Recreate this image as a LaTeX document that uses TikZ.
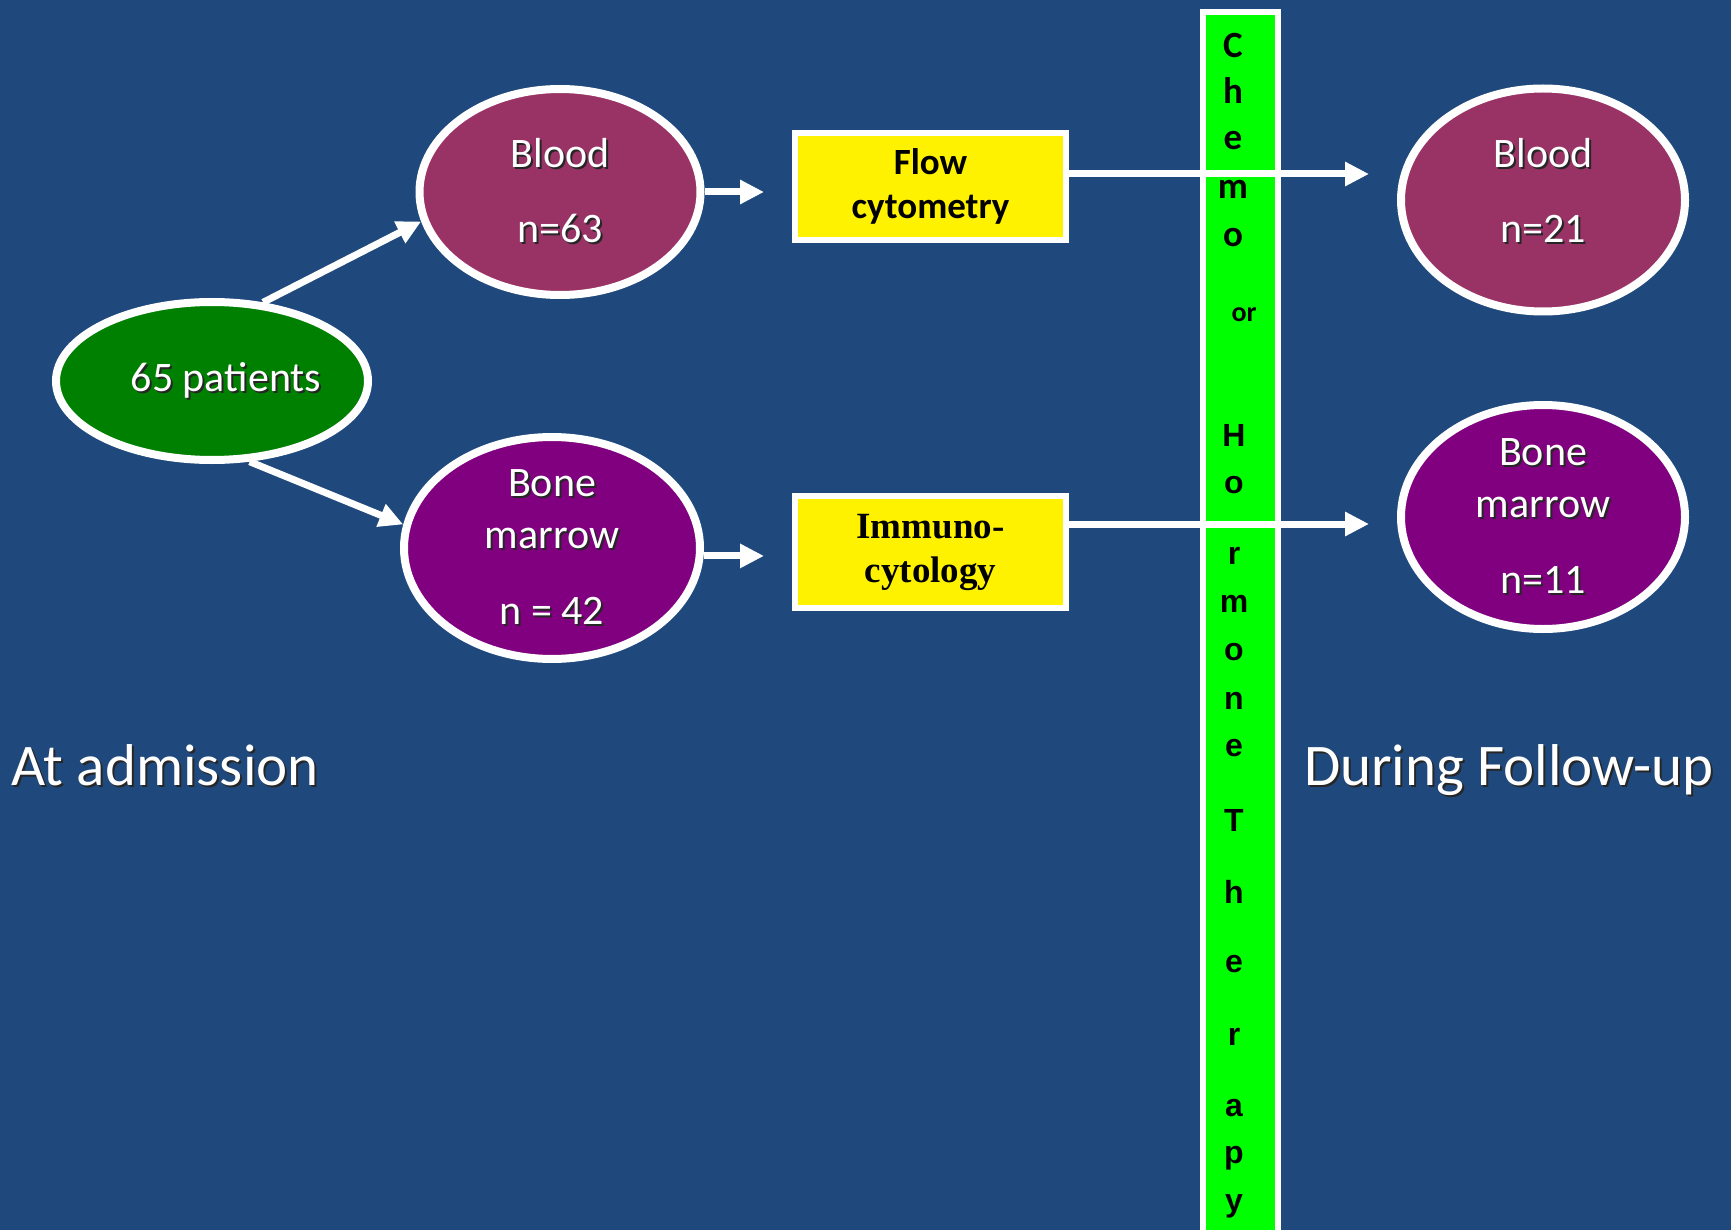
\documentclass[tikz,border=0pt]{standalone}
\usepackage{fontspec}
\setmainfont{Carlito}
\newfontfamily\timesfont{Liberation Serif}
\newfontfamily\arialfont{Liberation Sans}
\usepackage{tikz}
\usetikzlibrary{positioning,arrows.meta,shapes.geometric,calc}
\definecolor{slideblue}{RGB}{31,73,125}
\definecolor{bloodred}{RGB}{153,51,102}
\definecolor{marrowpurple}{RGB}{128,0,128}
\definecolor{patgreen}{RGB}{0,128,0}
\definecolor{bargreen}{RGB}{0,255,0}
\newcommand{\shd}[1]{\makebox[0pt][l]{\kern2pt\raisebox{-2pt}{\textcolor{black!85}{#1}}}#1}
\newcommand{\ovalfont}{\fontsize{42}{52}\selectfont}
\tikzset{
  oval/.style={ellipse,draw=white,line width=8pt,inner sep=0pt,text=white,font=\ovalfont},
  testbox/.style={rectangle,draw=white,line width=6pt,fill=yellow,inner sep=0pt,minimum width=271pt},
  arrowline/.style={->,draw=white,line width=7pt},
  chemoletter/.style={anchor=base,inner sep=0pt,font=\fontsize{37}{40}\selectfont\bfseries},
  hormoneletter/.style={anchor=base,inner sep=0pt,font=\arialfont\fontsize{32}{36}\selectfont\bfseries},
  phaselabel/.style={anchor=base,inner sep=0pt,text=white,font=\fontsize{59}{62}\selectfont}
}

\begin{document}
\begin{tikzpicture}[x=1pt,y=-1pt,align=center,>={Triangle[length=24pt,width=23pt]}]
      \fill[slideblue] (0,0) rectangle (1731,1230);
      \useasboundingbox (0,0) rectangle (1731,1230);

      % at admission
      \node[oval,fill=patgreen,minimum width=312pt,minimum height=158pt] (patients) at (212,381)
      {\hspace*{28pt}\shd{65 patients}};
      \node[oval,fill=bloodred,minimum width=281pt,minimum height=206pt] (bloodL) at (560,192)
      {\shd{Blood}\\[23pt]\shd{n=63}};
      \node[oval,fill=marrowpurple,minimum width=296pt,minimum height=221pt] (boneL) at (552,548)
      {\shd{Bone}\\\shd{marrow}\\[24pt]\shd{n = 42}};

      \node[testbox,minimum height=107pt,font=\fontsize{37}{44}\selectfont\bfseries] (flow) at (930.5,186.5)
      {Flow\\cytometry};
      \node[testbox,minimum height=112pt,font=\timesfont\fontsize{37}{44}\selectfont\bfseries] (immuno) at (930.5,552)
      {Immuno-\\cytology};

      % treatment bar
      \node[draw=white,line width=6pt,fill=bargreen,inner sep=0pt,minimum width=75pt,minimum height=1228pt] (bar) at (1240.5,626) {};
      \foreach \ch/\yy [count=\k] in {C/58,h/104,e/150,m/199,o/247}
        \node[chemoletter] (chemo\k) at (1233,\yy) {\ch};
      \node[chemoletter,font=\fontsize{28}{30}\selectfont\bfseries] (orword) at (1244,322) {or};
      \foreach \ch/\yy [count=\k] in {H/446,o/493,r/564,m/612,o/660,n/709,e/756,T/831,h/903,e/972,r/1045,a/1116,p/1163,y/1211}
        \node[hormoneletter] (hormone\k) at (1234,\yy) {\ch};

      % during follow-up
      \node[oval,fill=bloodred,minimum width=284pt,minimum height=223pt,text depth=20pt] (bloodR) at (1543,200)
      {\shd{Blood}\\[23pt]\shd{n=21}};
      \node[oval,fill=marrowpurple,minimum width=284pt,minimum height=224pt] (boneR) at (1543,517)
      {\shd{Bone}\\\shd{marrow}\\[24pt]\shd{n=11}};

      \node[phaselabel] (admission) at (165,785) {\shd{At admission}};
      \node[phaselabel] (followup) at (1509,785) {\shd{During Follow-up}};

      \draw[arrowline] (patients.57) -- (bloodL.192);
      \draw[arrowline] (patients.-65) -- (boneL.171);
      \draw[arrowline,shorten >=28pt] (bloodL.east) -- (bloodL.east -| flow.west);
      \draw[arrowline,shorten >=28pt] (boneL.-3) -- (boneL.-3 -| immuno.west);
      \draw[arrowline,shorten >=28pt] ([yshift=12.5pt]flow.east) -- ([yshift=12.5pt]flow.east -| bloodR.west);
      \draw[arrowline,shorten >=28pt] ([yshift=28pt]immuno.east) -- ([yshift=28pt]immuno.east -| boneR.west);
      %\draw[arrowline] (flow) -- (bloodR);
    \end{tikzpicture}
\end{document}
